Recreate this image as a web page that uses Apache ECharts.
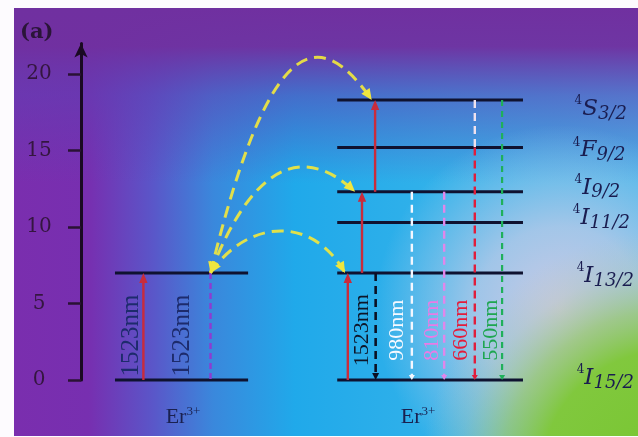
<!DOCTYPE html>
<html>
<head>
<meta charset="utf-8">
<title>Er3+ energy levels</title>
<script src="https://cdn.jsdelivr.net/npm/echarts@6.0.0/dist/echarts.min.js"></script>
<style>
  html, body { margin: 0; padding: 0; background: #fdfbfe; }
  #chart { width: 638px; height: 437px; }
</style>
</head>
<body>
<div id="chart"></div>
<script>
// ---------- data ----------
const yTicks = [0, 5, 10, 15, 20];

// Er3+ energy levels (10^3 cm^-1): donor ion (left) and acceptor ion (right)
const donorLevels = [0, 7.0];
const acceptorLevels = [0, 7.0, 10.3, 12.3, 15.2, 18.3];
const termLetters = ['I', 'I', 'I', 'I', 'F', 'S'];
const termJ = ['15/2', '13/2', '11/2', '9/2', '9/2', '3/2'];
const ionNames = ['Er', 'Er'];
const ionCharges = ['3+', '3+'];

// vertical transitions: ion (0 donor, 1 acceptor), column, start / end level index, kind, text
const transIon = [0, 0, 1, 1, 1, 1, 1, 1, 1, 1, 1];
const transX = [11.2, 23.25, 47.9, 50.45, 52.8, 52.9, 59.4, 65.2, 70.7, 70.7, 75.6];
const transFrom = [0, 1, 0, 1, 3, 1, 3, 3, 5, 4, 5];
const transTo = [1, 0, 1, 3, 5, 0, 0, 0, 4, 0, 0];
const transKind = ['pump', 'violet', 'pump', 'pump', 'pump', 'dark', 'white', 'pink', 'relax', 'red', 'green'];
const transText = ['1523nm', '1523nm', '', '', '', '1523nm', '980nm', '810nm', '', '660nm', '550nm'];

// energy-transfer arcs: donor excited level -> acceptor level
const arcFromX = 23.25;
const arcFromLevel = 1;
const arcToX = [52.2, 49.2, 47.4];
const arcToLevel = [5, 3, 1];

// ---------- layout ----------
const donorSpan = [6.1, 30.0];
const acceptorSpan = [46.0, 79.35];
const textX = [9.0, 18.3, 0, 0, 0, 50.45, 56.7, 63.0, 0, 68.2, 73.6];
const textY = [2.9, 2.9, 0, 0, 0, 3.25, 3.25, 3.25, 0, 3.25, 3.25];
const arcCtrl1 = [[33.9, 22.9], [30.3, 13.7], [29.4, 10.3]];
const arcCtrl2 = [[42.9, 23.2], [39.3, 15.7], [41.1, 11.0]];
const termX = [89.0, 89.0, 88.3, 88.6, 88.3, 88.6];
const termNudge = [-2, 3, -4.5, -4, 3, 9];
const ionLabelX = [18.3, 60.5];
const ionLabelY = -2.4;

const SERIF = '"Liberation Serif", "Times New Roman", serif';
const TERM_FONT = '"DejaVu Serif", serif';

const kindStyle = {
  pump:   { color: '#c92c3c', dash: null,   width: 2.4, head: 10, half: 4.2, label: '#1d2b6c' },
  violet: { color: '#8e3ad2', dash: [6, 4], width: 2.4, head: 0,  half: 0,   label: '#1d2b6c' },
  dark:   { color: '#0b1124', dash: [8, 5], width: 2.6, head: 7,  half: 3.5, label: '#0e1528' },
  white:  { color: '#f4f7ff', dash: [8, 5], width: 2.4, head: 5,  half: 3,   label: '#f6f9ff' },
  pink:   { color: '#e186ea', dash: [8, 5], width: 2.4, head: 5,  half: 3,   label: '#ea7ae6' },
  relax:  { color: '#f0e2ee', dash: [8, 5], width: 2.4, head: 0,  half: 0,   label: '#ffffff' },
  red:    { color: '#e01e3c', dash: [8, 5], width: 2.4, head: 5,  half: 3,   label: '#e41b3a' },
  green:  { color: '#1fb05a', dash: [6, 5], width: 2.2, head: 5,  half: 3,   label: '#1ea650' }
};

function levelValue(ion, idx) {
  return ion === 0 ? donorLevels[idx] : acceptorLevels[idx];
}

// ---------- series data built from the arrays ----------
const levelData = donorLevels.map(v => [donorSpan[0], donorSpan[1], v])
  .concat(acceptorLevels.map(v => [acceptorSpan[0], acceptorSpan[1], v]));

const transData = transX.map((x, i) => [x, levelValue(transIon[i], transFrom[i]), levelValue(transIon[i], transTo[i])]);

const arcData = arcToX.map((x, i) => [
  arcFromX, donorLevels[arcFromLevel], x, acceptorLevels[arcToLevel[i]],
  arcCtrl1[i][0], arcCtrl1[i][1], arcCtrl2[i][0], arcCtrl2[i][1]
]);

const termData = acceptorLevels.map((v, i) => [termX[i], v]);
const ionData = ionLabelX.map(x => [x, ionLabelY]);

function arrowHead(tip, from, len, half, color) {
  const dx = tip[0] - from[0], dy = tip[1] - from[1];
  const d = Math.sqrt(dx * dx + dy * dy) || 1;
  const ux = dx / d, uy = dy / d;
  const bx = tip[0] - ux * len, by = tip[1] - uy * len;
  return {
    type: 'polygon',
    shape: { points: [[tip[0], tip[1]], [bx - uy * half, by + ux * half], [bx + uy * half, by - ux * half]] },
    style: { fill: color }
  };
}

const chart = echarts.init(document.getElementById('chart'), null, { renderer: 'canvas' });

const frame = { x: 14, y: 8, width: 624, height: 428 };

chart.setOption({
  animation: false,
  backgroundColor: '#fdfbfe',
  grid: { left: 81, right: 0, top: 43.4, bottom: 57 },
  xAxis: { type: 'value', min: 0, max: 100, show: false },
  yAxis: {
    type: 'value', min: 0, max: 22,
    axisLine: { show: true, symbol: ['none', 'arrow'], symbolSize: [10, 14], lineStyle: { color: '#1a0a22', width: 3 } },
    axisTick: { show: true, customValues: yTicks, length: 13, lineStyle: { color: '#2a1234', width: 2.5 } },
    axisLabel: { customValues: yTicks, align: 'center', margin: 42, fontFamily: '"DejaVu Serif", serif', fontSize: 20, color: '#34163f' },
    splitLine: { show: false }
  },
  graphic: [
    { type: 'rect', z: -10, shape: frame,
      style: { fill: new echarts.graphic.LinearGradient(0, 0, 1, 0, [
        { offset: 0, color: '#7a2eae' }, { offset: 0.12, color: '#772fb0' },
        { offset: 0.22, color: '#5b55c8' }, { offset: 0.32, color: '#3a88dc' },
        { offset: 0.45, color: '#20a9ea' }, { offset: 0.7, color: '#33b2ea' },
        { offset: 1, color: '#4ab6ea' }]) } },
    { type: 'rect', z: -9, shape: { x: 14, y: 8, width: 624, height: 175 },
      style: { fill: new echarts.graphic.LinearGradient(0, 0, 0, 1, [
        { offset: 0, color: 'rgba(112,48,160,1)' }, { offset: 0.22, color: 'rgba(112,48,160,0.96)' },
        { offset: 0.5, color: 'rgba(96,62,178,0.55)' }, { offset: 1, color: 'rgba(96,62,178,0)' }]) } },
    { type: 'rect', z: -8, shape: frame,
      style: { fill: new echarts.graphic.RadialGradient(560, 310, 185, [
        { offset: 0, color: 'rgba(208,202,228,0.97)' }, { offset: 0.45, color: 'rgba(196,204,232,0.75)' },
        { offset: 1, color: 'rgba(180,205,235,0)' }], true) } },
    { type: 'rect', z: -7, shape: frame,
      style: { fill: new echarts.graphic.RadialGradient(670, 480, 250, [
        { offset: 0, color: 'rgba(120,198,48,1)' }, { offset: 0.52, color: 'rgba(128,200,58,0.98)' },
        { offset: 0.68, color: 'rgba(150,200,100,0.7)' }, { offset: 0.85, color: 'rgba(170,200,160,0.25)' },
        { offset: 1, color: 'rgba(175,200,180,0)' }], true) } },
    { type: 'text', z: 10, x: 20, y: 33,
      style: { text: '(a)', font: 'bold 21px "DejaVu Serif", serif', fill: '#2a1538', verticalAlign: 'middle' } }
  ],
  series: [
    {
      // energy levels
      type: 'custom', coordinateSystem: 'cartesian2d', data: levelData, z: 3,
      renderItem(params, api) {
        const a = api.coord([api.value(0), api.value(2)]);
        const b = api.coord([api.value(1), api.value(2)]);
        return { type: 'line', shape: { x1: a[0], y1: a[1], x2: b[0], y2: b[1] },
          style: { stroke: '#0f1230', lineWidth: 3 } };
      }
    },
    {
      // radiative / non-radiative transitions
      type: 'custom', coordinateSystem: 'cartesian2d', data: transData, z: 4,
      renderItem(params, api) {
        const i = params.dataIndex;
        const st = kindStyle[transKind[i]];
        const p0 = api.coord([api.value(0), api.value(1)]);
        const p1 = api.coord([api.value(0), api.value(2)]);
        const dir = p1[1] > p0[1] ? 1 : -1;
        const children = [];
        const y2 = st.head ? p1[1] - dir * st.head * 0.7 : p1[1];
        children.push({ type: 'line', shape: { x1: p0[0], y1: p0[1], x2: p1[0], y2: y2 },
          style: { stroke: st.color, lineWidth: st.width, lineDash: st.dash } });
        if (st.head) children.push(arrowHead(p1, p0, st.head, st.half, st.color));
        if (transText[i]) {
          const c = api.coord([textX[i], textY[i]]);
          children.push({ type: 'text', x: c[0], y: c[1], rotation: Math.PI / 2,
            style: { text: transText[i], fill: st.label, align: 'center', verticalAlign: 'middle',
              font: (transIon[i] === 0 ? 25 : 22) + 'px ' + SERIF } });
        }
        return { type: 'group', children };
      }
    },
    {
      // energy-transfer arcs
      type: 'custom', coordinateSystem: 'cartesian2d', data: arcData, z: 5,
      renderItem(params, api) {
        const p0 = api.coord([api.value(0), api.value(1)]);
        const p3 = api.coord([api.value(2), api.value(3)]);
        const c1 = api.coord([api.value(4), api.value(5)]);
        const c2 = api.coord([api.value(6), api.value(7)]);
        const color = '#f0e63e';
        return { type: 'group', children: [
          { type: 'bezierCurve',
            shape: { x1: p0[0], y1: p0[1], x2: p3[0], y2: p3[1], cpx1: c1[0], cpy1: c1[1], cpx2: c2[0], cpy2: c2[1] },
            style: { stroke: color, lineWidth: 3, lineDash: [12, 7], fill: null, opacity: 0.92 } },
          arrowHead(p3, c2, 11, 5, color),
          arrowHead(p0, c1, 11, 5, color)
        ] };
      }
    },
    {
      // spectroscopic terms
      type: 'custom', coordinateSystem: 'cartesian2d', data: termData, z: 6,
      renderItem(params, api) {
        const i = params.dataIndex;
        const c = api.coord([api.value(0), api.value(1)]);
        return { type: 'text', x: c[0], y: c[1] + termNudge[i],
          style: {
            text: '{sup|4}{main|' + termLetters[i] + '}{sub|' + termJ[i] + '}',
            align: 'left', verticalAlign: 'middle',
            rich: {
              sup: { font: '12px ' + TERM_FONT, fill: '#1a1d50', verticalAlign: 'top', lineHeight: 13 },
              main: { font: 'italic 23px ' + TERM_FONT, fill: '#1a1d50', lineHeight: 28 },
              sub: { font: 'italic 18px ' + TERM_FONT, fill: '#1a1d50', verticalAlign: 'bottom', lineHeight: 17 }
            }
          } };
      }
    },
    {
      // ion labels
      type: 'custom', coordinateSystem: 'cartesian2d', data: ionData, z: 6,
      renderItem(params, api) {
        const i = params.dataIndex;
        const c = api.coord([api.value(0), api.value(1)]);
        return { type: 'text', x: c[0], y: c[1],
          style: {
            text: '{b|' + ionNames[i] + '}{s|' + ionCharges[i] + '}',
            align: 'center', verticalAlign: 'middle',
            rich: {
              b: { font: '22px ' + SERIF, fill: '#1a2150', lineHeight: 24 },
              s: { font: '13px ' + SERIF, fill: '#1a2150', verticalAlign: 'top', lineHeight: 13 }
            }
          } };
      }
    }
  ]
});
</script>
</body>
</html>
